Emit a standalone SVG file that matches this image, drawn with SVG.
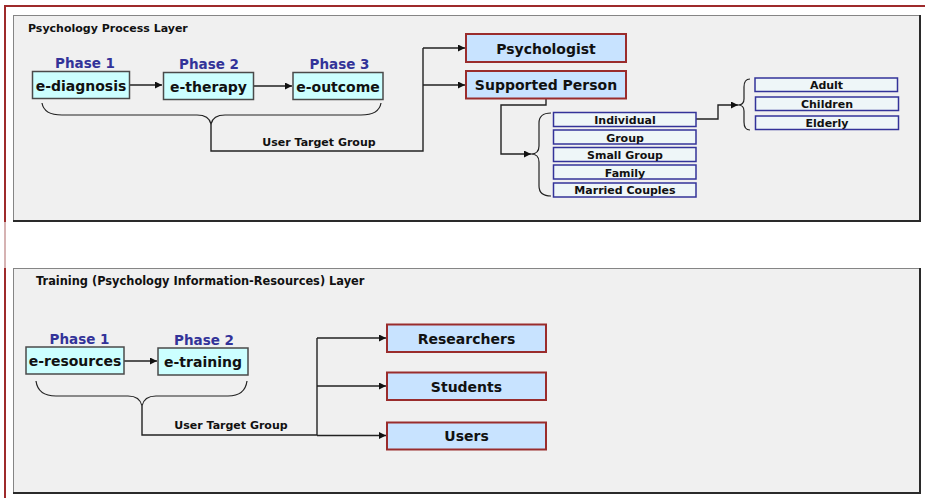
<svg xmlns="http://www.w3.org/2000/svg" width="925" height="498" viewBox="0 0 925 498">
  <style>
    text { font-family: "DejaVu Sans", Verdana, sans-serif; font-weight: bold; text-anchor: middle; fill: #111; }
    .title { font-size: 11px; text-anchor: start; }
    .title-wide { font-size: 11.4px; }
    .phase { font-size: 13.5px; fill: #333399; }
    .step { font-size: 14px; }
    .target { font-size: 14px; }
    .item { font-size: 11px; }
    .note { font-size: 11px; }
    .panel { fill: #f0f0f0; stroke: #858585; stroke-width: 1; }
    .panel-shade { stroke: #2a2a2a; stroke-width: 2; fill: none; }
    .cyan { fill: #ccffff; stroke: #4a4a4a; stroke-width: 1.5; }
    .blue { fill: #c8e3ff; stroke: #9a2c2c; stroke-width: 2; }
    .small { fill: #eef6f8; stroke: #333399; stroke-width: 1.5; }
    .wire { fill: none; stroke: #222; stroke-width: 1.4; }
    .arrow { fill: none; stroke: #222; stroke-width: 1.4; marker-end: url(#head); }
    .brace { fill: none; stroke: #222; stroke-width: 1.2; }
  </style>
  <defs>
    <marker id="head" markerUnits="userSpaceOnUse" markerWidth="8" markerHeight="8" refX="7" refY="3.5" orient="auto">
      <path d="M0,0 L7,3.5 L0,7 z" fill="#111"/>
    </marker>
  </defs>

  <rect width="925" height="498" fill="#ffffff"/>

  <!-- page frame -->
  <g id="frame">
    <line x1="4" y1="6" x2="925" y2="6" stroke="#9e2a2b" stroke-width="2"/>
    <line x1="5" y1="5" x2="5" y2="222" stroke="#9e2a2b" stroke-width="2"/>
    <line x1="5" y1="222" x2="5" y2="268" stroke="#c99a9a" stroke-width="1.5"/>
    <line x1="5" y1="268" x2="5" y2="498" stroke="#9e2a2b" stroke-width="2"/>
  </g>

  <!-- layer panels -->
  <g id="panel-process">
    <rect class="panel" x="13.5" y="15.5" width="906" height="206"/>
    <path class="panel-shade" d="M13,221 H920 V15"/>
    <text class="title" x="28" y="31.5">Psychology Process Layer</text>
  </g>
  <g id="panel-training">
    <rect class="panel" x="13.5" y="268.5" width="906" height="224"/>
    <path class="panel-shade" d="M13,493 H920 V268"/>
    <text class="title title-wide" x="36" y="285">Training (Psychology Information-Resources) Layer</text>
  </g>

  <!-- connectors -->
  <g id="connectors">
    <!-- process layer -->
    <path class="arrow" d="M129,85 H162"/>
    <path class="arrow" d="M254,86 H292"/>
    <path class="brace" d="M42,103 Q44,115 62,115 L197,115 Q209,115 211,124 Q213,115 225,115 L361,115 Q379,115 381,103"/>
    <path class="wire" d="M211,124 V151 H423 V48"/>
    <path class="arrow" d="M423,48 H465"/>
    <path class="arrow" d="M423,85 H465"/>
    <path class="arrow" d="M546,98 V105 H501 V154 H531"/>
    <path class="brace" d="M551,113 Q539,113 539,123 L539,146 Q539,154 531,154 Q539,154 539,162 L539,186 Q539,196 551,196"/>
    <path class="arrow" d="M696,119 H718 V105 H738"/>
    <path class="brace" d="M750,79 Q744,79 744,87 L744,99 Q744,105 738,105 Q744,105 744,111 L744,122 Q744,130 750,130"/>
    <!-- training layer -->
    <path class="arrow" d="M124,361 H157"/>
    <path class="brace" d="M36,381 Q38,396 56,396 L128,396 Q140,396 142,406 Q144,396 156,396 L228,396 Q245,396 247,381"/>
    <path class="wire" d="M142,406 V435 H317 M317,338 V435"/>
    <path class="arrow" d="M317,338 H386"/>
    <path class="arrow" d="M317,386 H386"/>
    <path class="arrow" d="M317,435.5 H386"/>
  </g>

  <text class="note" x="319" y="145.5">User Target Group</text>
  <text class="note" x="231" y="429">User Target Group</text>

  <!-- process phases -->
  <g id="e-diagnosis">
    <text class="phase" x="85" y="68">Phase 1</text>
    <rect class="cyan" x="32.5" y="71.5" width="97" height="27"/>
    <text class="step" x="81" y="91">e-diagnosis</text>
  </g>
  <g id="e-therapy">
    <text class="phase" x="209" y="69">Phase 2</text>
    <rect class="cyan" x="163.5" y="72.5" width="90" height="27"/>
    <text class="step" x="208.5" y="91.5">e-therapy</text>
  </g>
  <g id="e-outcome">
    <text class="phase" x="339.5" y="69">Phase 3</text>
    <rect class="cyan" x="293" y="72.5" width="90" height="27"/>
    <text class="step" x="338" y="91.5">e-outcome</text>
  </g>

  <!-- process targets -->
  <g id="psychologist">
    <rect class="blue" x="466" y="34" width="160" height="28"/>
    <text class="target" x="546" y="53.5">Psychologist</text>
  </g>
  <g id="supported-person">
    <rect class="blue" x="466" y="71" width="160" height="27.5"/>
    <text class="target" x="546" y="90">Supported Person</text>
  </g>

  <g id="individual">
    <rect class="small" x="553.5" y="112.5" width="142.5" height="14"/>
    <text class="item" x="625" y="123.5">Individual</text>
  </g>
  <g id="group">
    <rect class="small" x="553.5" y="130" width="142.5" height="14"/>
    <text class="item" x="625" y="141.5">Group</text>
  </g>
  <g id="small-group">
    <rect class="small" x="553.5" y="147.5" width="142.5" height="14"/>
    <text class="item" x="625" y="158.5">Small Group</text>
  </g>
  <g id="family">
    <rect class="small" x="553.5" y="165" width="142.5" height="14"/>
    <text class="item" x="625" y="176.5">Family</text>
  </g>
  <g id="married-couples">
    <rect class="small" x="553.5" y="183" width="142.5" height="14"/>
    <text class="item" x="625" y="194">Married Couples</text>
  </g>

  <g id="adult">
    <rect class="small" x="755" y="78" width="142.5" height="13.5"/>
    <text class="item" x="826.5" y="88.5">Adult</text>
  </g>
  <g id="children">
    <rect class="small" x="755.5" y="97" width="143" height="13.5"/>
    <text class="item" x="827" y="107.5">Children</text>
  </g>
  <g id="elderly">
    <rect class="small" x="755.5" y="116" width="143" height="13.5"/>
    <text class="item" x="827" y="126.5">Elderly</text>
  </g>

  <!-- training phases -->
  <g id="e-resources">
    <text class="phase" x="79.5" y="343.5">Phase 1</text>
    <rect class="cyan" x="26" y="347" width="98" height="27"/>
    <text class="step" x="75" y="366">e-resources</text>
  </g>
  <g id="e-training">
    <text class="phase" x="204" y="344.5">Phase 2</text>
    <rect class="cyan" x="158" y="348" width="90" height="27"/>
    <text class="step" x="203" y="367">e-training</text>
  </g>

  <!-- training targets -->
  <g id="researchers">
    <rect class="blue" x="387" y="324.5" width="159" height="27.5"/>
    <text class="target" x="466.5" y="343.5">Researchers</text>
  </g>
  <g id="students">
    <rect class="blue" x="387" y="372.5" width="159" height="27.5"/>
    <text class="target" x="466.5" y="391.5">Students</text>
  </g>
  <g id="users">
    <rect class="blue" x="387" y="422.5" width="159" height="27"/>
    <text class="target" x="466.5" y="441">Users</text>
  </g>
</svg>
